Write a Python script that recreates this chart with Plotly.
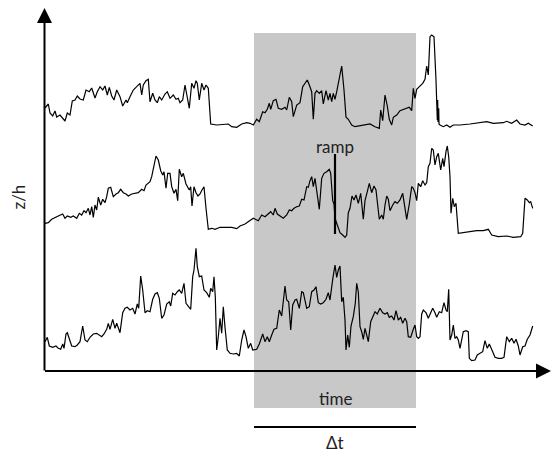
import plotly.graph_objects as go

# ---- data (time in arbitrary units, z/h in arbitrary units) ----
top_t = [1, 4.3, 6, 8.7, 11, 12.7, 16, 21, 23.3, 26, 28.3, 31, 33.3, 36, 39.3, 42, 45.3, 47.7, 51, 53.3,
         56, 58.7, 61, 63.3, 65.3, 67.7, 70, 72.7, 76, 78.7, 82, 83.3, 86, 89.3, 92.7, 96, 97.7, 99.3, 102, 104.3,
         106, 108.7, 111, 113.3, 115.3, 117.7, 121, 123.3, 126, 129.3, 132, 134.3, 136, 138.7, 141, 143.3, 145.3, 147.7, 150, 152,
         153.3, 155.3, 157.7, 160, 162, 164.3, 166.7, 172.7, 179.3, 184.3, 187.7, 192.7, 197.7, 202.7,
         206, 209.3, 212.7, 215.3, 218.7, 221, 223.3, 225.3, 226.7, 229.3, 232, 234.3, 237.7, 241, 242.7, 245.3, 247.7, 249.3,
         252.7, 256, 258.7, 261, 263.3, 265.3, 267.7, 269.3, 271, 272.7, 275.3, 277.7, 279.3, 282, 284.3, 286, 287.7, 289.3,
         291, 292.7, 295.3, 297.7, 300, 302, 304.3, 307.7, 311, 316, 321, 326, 331, 335.3, 336.7, 338.7, 341, 343.3,
         345.3, 347.7, 349.3, 352.7, 356, 359.3, 362.7, 365.3, 367.7, 369.3, 371, 372.7, 375.3, 378.7, 381, 382.7, 384.3,
         386, 387.7, 390, 392, 393.3, 393.7, 394, 394.7, 395, 396, 399.3, 402.7, 406, 409.3, 416, 426, 436, 442.7, 449.3,
         459.3, 462.7, 467.7, 472.7, 476, 481, 484.3, 488.7]
top_z = [264, 268, 259, 256, 261, 255, 257, 251, 259, 257, 271, 272, 276, 273, 272, 282, 280.3, 284, 274, 280.3,
         285.3, 282, 286, 277, 284.7, 276, 272, 282, 275.3, 266, 272, 269.3, 275.3, 282, 285.3, 288.7, 277, 287, 291.3, 292.7,
         270.3, 278.7, 272, 269.3, 275.3, 272, 278, 280.3, 273.7, 277, 272.7, 273.7, 269.3, 272, 287, 275.3, 263.7, 288.7, 283.7, 291.3,
         288.7, 272, 288.7, 282, 287, 283.7, 248, 247, 248, 248, 245.3, 244.7, 248, 249.3,
         248.7, 247, 252.7, 250.3, 260.3, 259.3, 262.7, 268.7, 262.7, 271.3, 272.7, 263.7, 262.7, 264.7, 262, 274.7, 270.3, 255.3,
         267, 269.3, 285.3, 289.3, 292, 287, 280.3, 252.7, 278.7, 281.3, 278.7, 281.3, 268, 281.3, 272, 278.7, 270.3, 278.7,
         272.7, 280.3, 295.3, 306, 282, 254.7, 252.7, 247, 245.3, 246, 247, 248, 245.3, 243.7, 262, 251.3, 277, 266,
         252.7, 247, 254.7, 257, 261.3, 262.7, 263.7, 264.7, 261.3, 283.7, 273.7, 282.7, 285.3, 288.7, 292.7, 306, 297,
         335.3, 337, 335.3, 292, 252, 272, 250, 263.7, 248, 247, 245.3, 247, 244.7, 247, 247, 248, 249.3, 250.3, 248.7,
         249.3, 250.7, 248.7, 252, 248, 247, 248.7, 246]

mid_t = [1, 4.3, 7.7, 11, 14.3, 18.7, 21, 23.3, 26.7, 29.3, 32.7, 35.3, 37.7, 40, 42, 44.3, 46, 47.7, 49.3, 51,
         52.7, 54.3, 56.7, 58.7, 61, 62.7, 64.3, 66.7, 69.3, 72, 74.3, 76.7, 79.3, 82, 84.3, 87.7, 91, 94.3, 97.7, 100,
         102, 104.3, 106, 107.7, 110, 112, 114.3, 116.7, 118.7, 120, 122, 123.7, 126, 127.7, 130, 132, 133.7, 135.3, 137.7, 139.3,
         142, 143.7, 145.3, 146.7, 148, 150, 152, 154, 156, 158, 160, 162, 164.3, 167.7, 171, 176, 182.7, 187.7, 192.7, 196, 201,
         206, 209.3, 214.3, 217.7, 221, 224.3, 226.7, 229.3, 231, 233.3, 236, 239.3, 242.7, 245.3, 247.7, 250, 252.7, 255.3,
         257.7, 260, 262.7, 264.3, 266, 267.7, 269.3, 271, 273.3, 275.3, 277.7, 280, 282.7, 285.3, 286.7, 288.7, 290, 291,
         293.3, 296, 298.7, 301, 302.7, 304.3, 306, 308, 310, 312, 314.3, 316.7, 319.3, 321, 323.3, 325.3, 327.7, 330, 332,
         333.3, 335.3, 337.7, 339.3, 341, 342.7, 344.3, 346, 348.7, 351, 353.3, 356, 358.7, 361, 362.7, 365.3, 367.7, 369.3,
         371, 372.7, 374.3, 376.7, 378.7, 381, 382.7, 384.3, 386, 387.7, 389.3, 391, 392.7, 394.3, 396.7, 398.7, 400, 402,
         403.3, 404.7, 406, 407, 408.7, 410.3, 412, 414.3, 419.3, 426, 432.7, 439.3, 444.3, 447.7, 454.3, 462.7, 469.3,
         476.7, 478.7, 481, 483.3, 485.3, 486.7, 488.7]
mid_z = [148.7, 149.3, 152.7, 154.7, 156, 158, 153.7, 156, 154.7, 156, 153.7, 158.7, 157, 161.3, 159.3, 163.7, 157, 165.3, 154.7, 167,
         162, 174.7, 167, 172.7, 169.3, 175.3, 183.7, 184.7, 175.3, 178, 179.3, 182.7, 179.3, 178, 176, 178, 178.7, 179.3, 182.7, 181.3,
         187, 188.7, 190.3, 195.3, 207, 216, 212, 201.3, 197, 200.3, 183.7, 198.7, 198.7, 185.3, 178.7, 182.7, 171.3, 202.7, 195.3, 198.7,
         188, 185.3, 182, 185.3, 166, 185.3, 179.3, 176, 178, 182, 185.3, 163.7, 142.7, 143.7, 142.7, 144.7, 144.7, 144.7, 143.3, 146, 148,
         152, 153.7, 151.3, 157, 155.3, 158, 160.3, 157, 163.7, 158, 156, 153.7, 157, 162, 161.3, 163.7, 165.3, 166,
         172.7, 172, 185.3, 184.7, 191.3, 195.3, 185.3, 193.7, 177, 162.7, 193.7, 198.7, 200.3, 202.7, 198.7, 171.3, 168, 153.7,
         147, 139.3, 137, 134.7, 137, 159.3, 163.7, 176, 172, 177, 168.7, 178.7, 152.7, 171.3, 180.3, 188.7, 179.3, 186, 182,
         168.7, 152.7, 157, 152.7, 167, 176, 172.7, 161.3, 167, 170.3, 168.7, 172, 178.7, 163.7, 152.7, 168, 185.3, 183.7,
         179.3, 171.3, 188.7, 185.3, 191.3, 187, 189.3, 205.3, 208.7, 223.7, 222, 207, 215.3, 218.7, 202, 213.7, 205.3, 220.3,
         226, 215.3, 195.3, 158.7, 173.7, 165.3, 168.7, 138.7, 139.3, 140.3, 141.3, 141.3, 142.7, 137, 135.3, 136, 134.7,
         135.3, 138.7, 173.7, 172, 169.3, 170.3, 163.7]

bot_t = [1, 3.3, 5.3, 8.7, 12, 14.3, 16.7, 18.7, 20, 22, 23.3, 25.3, 27.7, 31, 33.3, 36, 38.7, 41, 43.3, 46,
         49.3, 52.7, 55.3, 57.7, 60, 62.7, 64.3, 66, 68.7, 71, 72.7, 76, 78.7, 81, 83.3, 86, 88.7, 91, 93.3, 94.7,
         96.7, 98.7, 101, 103.3, 106, 108.7, 111, 113.3, 115.3, 117.7, 120, 122.7, 125.3, 126.7, 128.7, 131, 133.3, 135.3, 137.7, 140,
         142, 144.3, 146.7, 148.7, 150, 152, 153.3, 155.3, 157.7, 160, 162.7, 165.3, 166.7, 168.7, 170, 171.3, 172.7, 174.3, 176, 177.7,
         179.3, 181, 183.3, 186, 189.3, 192.7, 195.3, 197.7, 200, 202, 204.3, 206.7, 208.7, 212.7, 215.3, 218.7, 221, 223.3,
         225.3, 227.7, 230, 232.7, 235.3, 237.7, 241, 242.7, 244.7, 246.7, 248.7, 251, 252.7, 255.3, 257.7, 259.3, 261, 262.7,
         265.3, 267.7, 270, 272, 274.3, 276.7, 279.3, 282, 284.3, 286, 288.7, 291, 292.7, 294.3, 296, 297.7, 299.3, 301, 302,
         303.7, 305.3, 307, 309.3, 311.3, 312.7, 314.3, 316, 317.7, 319.3, 321, 322.7, 324.3, 326.7, 328.7, 331, 333.3, 336,
         338.7, 341, 343.3, 345.3, 347.7, 350, 352, 354.3, 356.7, 358.7, 361, 362.7, 364.3, 366.7, 369.3, 371, 372.7, 374.3,
         376, 377.7, 379.3, 382, 384.3, 386.7, 388.7, 391, 392.7, 395.3, 397.7, 400, 402, 403.3, 404.7, 406, 407.7, 409.3,
         411, 412.7, 414.3, 416, 417.7, 419.3, 422, 424.3, 425.3, 427.7, 431, 433.3, 436, 438.7, 441, 443.3, 445.3, 446.7,
         448.7, 451, 454.3, 457.7, 460, 462.7, 465.3, 467.7, 470, 472, 474.3, 476, 478.7, 481, 483.3, 486, 488.7]
bot_z = [30.3, 34.7, 26, 24.7, 26, 23.7, 22.7, 28, 23.7, 38, 39.3, 32.7, 26, 25.3, 27, 30.3, 46, 32, 30.3, 34.7,
         38, 38.7, 37, 35.3, 38, 42.7, 48.7, 42.7, 52.7, 43.7, 48.7, 39.3, 59.3, 63.7, 64.7, 62, 63.7, 58, 68, 63.7,
         96, 82, 59.3, 61.3, 60.3, 72.7, 78, 79.3, 73.7, 53.7, 57, 68, 70.3, 66, 78.7, 77, 80.3, 82, 78.7, 88.7,
         68.7, 66, 62.7, 95.3, 102, 123.7, 105.3, 95.3, 96, 82, 79.3, 74.7, 83.7, 80.3, 95.3, 75.3, 22, 35.3, 53.7, 38.7,
         65.3, 44.7, 22, 18.7, 18, 18.7, 16, 32, 42, 35.3, 23.7, 28.7, 22, 22.7, 28, 38, 30.3, 35.3,
         30.3, 37, 42.7, 43.7, 62, 56, 86, 72, 70.3, 42, 67, 72, 72.7, 63.7, 80.3, 79.3, 70.3, 63.7,
         65.3, 80.3, 82, 85.3, 69.3, 68, 69.3, 72.7, 79.3, 72, 92.7, 107, 94.7, 102, 106, 70.3, 74.7, 52, 22,
         37, 24.7, 46, 55.3, 68.7, 88.7, 80.3, 45.3, 40.3, 32.7, 43.7, 37, 30.3, 50.3, 56, 60.3, 58, 63.7,
         59.3, 58, 59.3, 54.7, 56, 52, 61.3, 52, 54.7, 48.7, 53.7, 50.3, 35.3, 34.7, 42.7, 47, 35.3, 33.7,
         35.3, 58, 62, 59.3, 53.7, 59.3, 63.7, 59.3, 54.7, 60.3, 59.3, 69.3, 62, 60.3, 82.7, 32, 37, 47,
         33.7, 35.3, 32, 23.7, 33.7, 40.3, 41.3, 40.3, 13.7, 11.3, 12, 17, 18.7, 20.3, 31.3, 23.7, 28, 25.3,
         20.3, 14.7, 13.7, 13.7, 14.7, 35.3, 30.3, 33.7, 28.7, 32.7, 26, 17, 25.3, 26, 32.7, 37, 46]

window_start, window_end = 210, 372      # shaded interval Δt
ramp_time = 291
ramp_low, ramp_high = 138, 218

fig = go.Figure()
fig.add_shape(type="rect", xref="x", yref="y", x0=window_start, x1=window_end, y0=-36, y1=339,
              fillcolor="#c8c8c8", line_width=0, layer="below")

for t, z in [(top_t, top_z), (mid_t, mid_z), (bot_t, bot_z)]:
    fig.add_trace(go.Scatter(x=t, y=z, mode="lines", line=dict(color="black", width=1.2),
                             showlegend=False, hoverinfo="skip"))

# ramp marker
fig.add_shape(type="line", xref="x", yref="y", x0=ramp_time, x1=ramp_time, y0=ramp_low, y1=ramp_high,
              line=dict(color="black", width=2.2))
# Δt bar
fig.add_shape(type="line", xref="x", yref="y", x0=window_start, x1=window_end, y0=-55, y1=-55,
              line=dict(color="black", width=2))

# axes with arrows
fig.add_annotation(x=0.5, y=364, ax=0.5, ay=0, xref="x", yref="y", axref="x", ayref="y",
                   showarrow=True, arrowhead=2, arrowsize=1.5, arrowwidth=2, arrowcolor="black", text="")
fig.add_annotation(x=507, y=1, ax=-0.5, ay=1, xref="x", yref="y", axref="x", ayref="y",
                   showarrow=True, arrowhead=2, arrowsize=1.5, arrowwidth=2, arrowcolor="black", text="")

font = dict(family="Lato, 'Open Sans', sans-serif", size=17, color="#222222")
fig.add_annotation(x=(window_start + window_end) / 2, y=-26, text="time", showarrow=False, font=font)
fig.add_annotation(x=(window_start + window_end) / 2, y=-70, text="Δt", showarrow=False, font=font)
fig.add_annotation(x=ramp_time, y=226, text="ramp", showarrow=False, font=font)
fig.add_annotation(x=-26.5, y=175, text="z/h", textangle=-90, showarrow=False, font=font)

fig.update_layout(
    width=552, height=452,
    margin=dict(l=0, r=0, t=0, b=0),
    paper_bgcolor="white", plot_bgcolor="white",
    xaxis=dict(range=[-44, 508], visible=False, fixedrange=True),
    yaxis=dict(range=[-80, 372], visible=False, fixedrange=True),
    showlegend=False,
)

fig.write_html("out.html")
